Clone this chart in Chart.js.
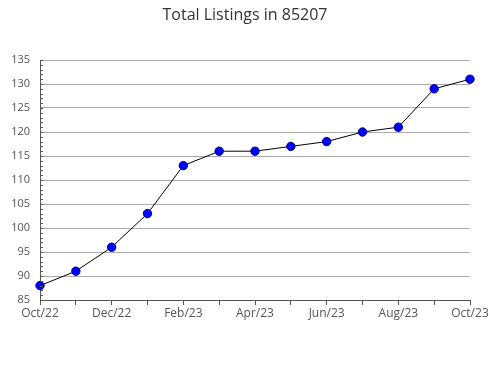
<!DOCTYPE html>
<html>
<head>
  <meta charset="utf-8">
  <title>Total Listings in 85207</title>
  <script src="https://cdn.jsdelivr.net/npm/chart.js"></script>
  <style>
    body { margin: 0; background: #fff; }
    #wrap { width: 490px; height: 380px; }
  </style>
</head>
<body>
  <div id="wrap"><canvas id="listingsChart"></canvas></div>
  <script>
    const MONTHS = ['Oct/22', 'Nov/22', 'Dec/22', 'Jan/23', 'Feb/23', 'Mar/23', 'Apr/23',
                    'May/23', 'Jun/23', 'Jul/23', 'Aug/23', 'Sep/23', 'Oct/23'];
    const LISTINGS = [88, 91, 96, 103, 113, 116, 116, 117, 118, 120, 121, 129, 131];
    const Y_MIN = 85;
    const Y_MAX = 135;
    const Y_STEP = 5;

    // small ticks every 1 unit on the left axis
    const minorTicks = {
      id: 'minorTicks',
      afterDraw(chart) {
        const y = chart.scales.y;
        const ctx = chart.ctx;
        const x0 = chart.chartArea.left;
        ctx.save();
        ctx.strokeStyle = '#555';
        ctx.lineWidth = 1;
        ctx.beginPath();
        for (let v = Y_MIN; v <= Y_MAX; v++) {
          const py = Math.round(y.getPixelForValue(v)) + 0.5;
          ctx.moveTo(x0, py);
          ctx.lineTo(x0 + 3, py);
        }
        ctx.stroke();
        ctx.restore();
      }
    };

    const ctx = document.getElementById('listingsChart').getContext('2d');
    const chart = new Chart(ctx, {
      type: 'line',
      data: {
        labels: MONTHS,
        datasets: [{
          label: 'Total Listings',
          data: LISTINGS,
          borderColor: '#000',
          borderWidth: 1,
          tension: 0,
          fill: false,
          clip: false,
          pointRadius: 4.2,
          pointBackgroundColor: '#0000ff',
          pointBorderColor: '#00008b',
          pointBorderWidth: 1
        }]
      },
      options: {
        responsive: true,
        maintainAspectRatio: false,
        animation: false,
        layout: { padding: 0 },
        plugins: {
          legend: { display: false },
          tooltip: { enabled: false },
          title: {
            display: true,
            text: 'Total Listings in 85207',
            color: '#333',
            font: { family: 'Open Sans', size: 16, weight: 'normal' },
            padding: { top: 6, bottom: 34.8 }
          }
        },
        scales: {
          x: {
            offset: false,
            afterFit(scale) { scale.height = 80; },
            border: { color: '#555' },
            grid: { drawOnChartArea: false, drawTicks: true, tickLength: 5, color: '#555' },
            ticks: {
              autoSkip: false,
              maxRotation: 0,
              padding: 1,
              color: '#555',
              font: { family: 'Open Sans', size: 12 },
              callback: (val, i) => (i % 2 === 0 ? MONTHS[i] : '')
            }
          },
          y: {
            min: Y_MIN,
            max: Y_MAX,
            afterFit(scale) { scale.width = 40; },
            border: { color: '#555' },
            grid: { color: '#aaa', drawTicks: false },
            ticks: {
              stepSize: Y_STEP,
              padding: 10,
              color: '#555',
              font: { family: 'Open Sans', size: 11 }
            }
          },
          // empty right margin so the title stays centred on the page
          yRight: {
            position: 'right',
            min: Y_MIN,
            max: Y_MAX,
            afterFit(scale) { scale.width = 20; },
            border: { display: false },
            grid: { display: false },
            ticks: { display: false }
          }
        }
      },
      plugins: [minorTicks]
    });
  </script>
</body>
</html>
